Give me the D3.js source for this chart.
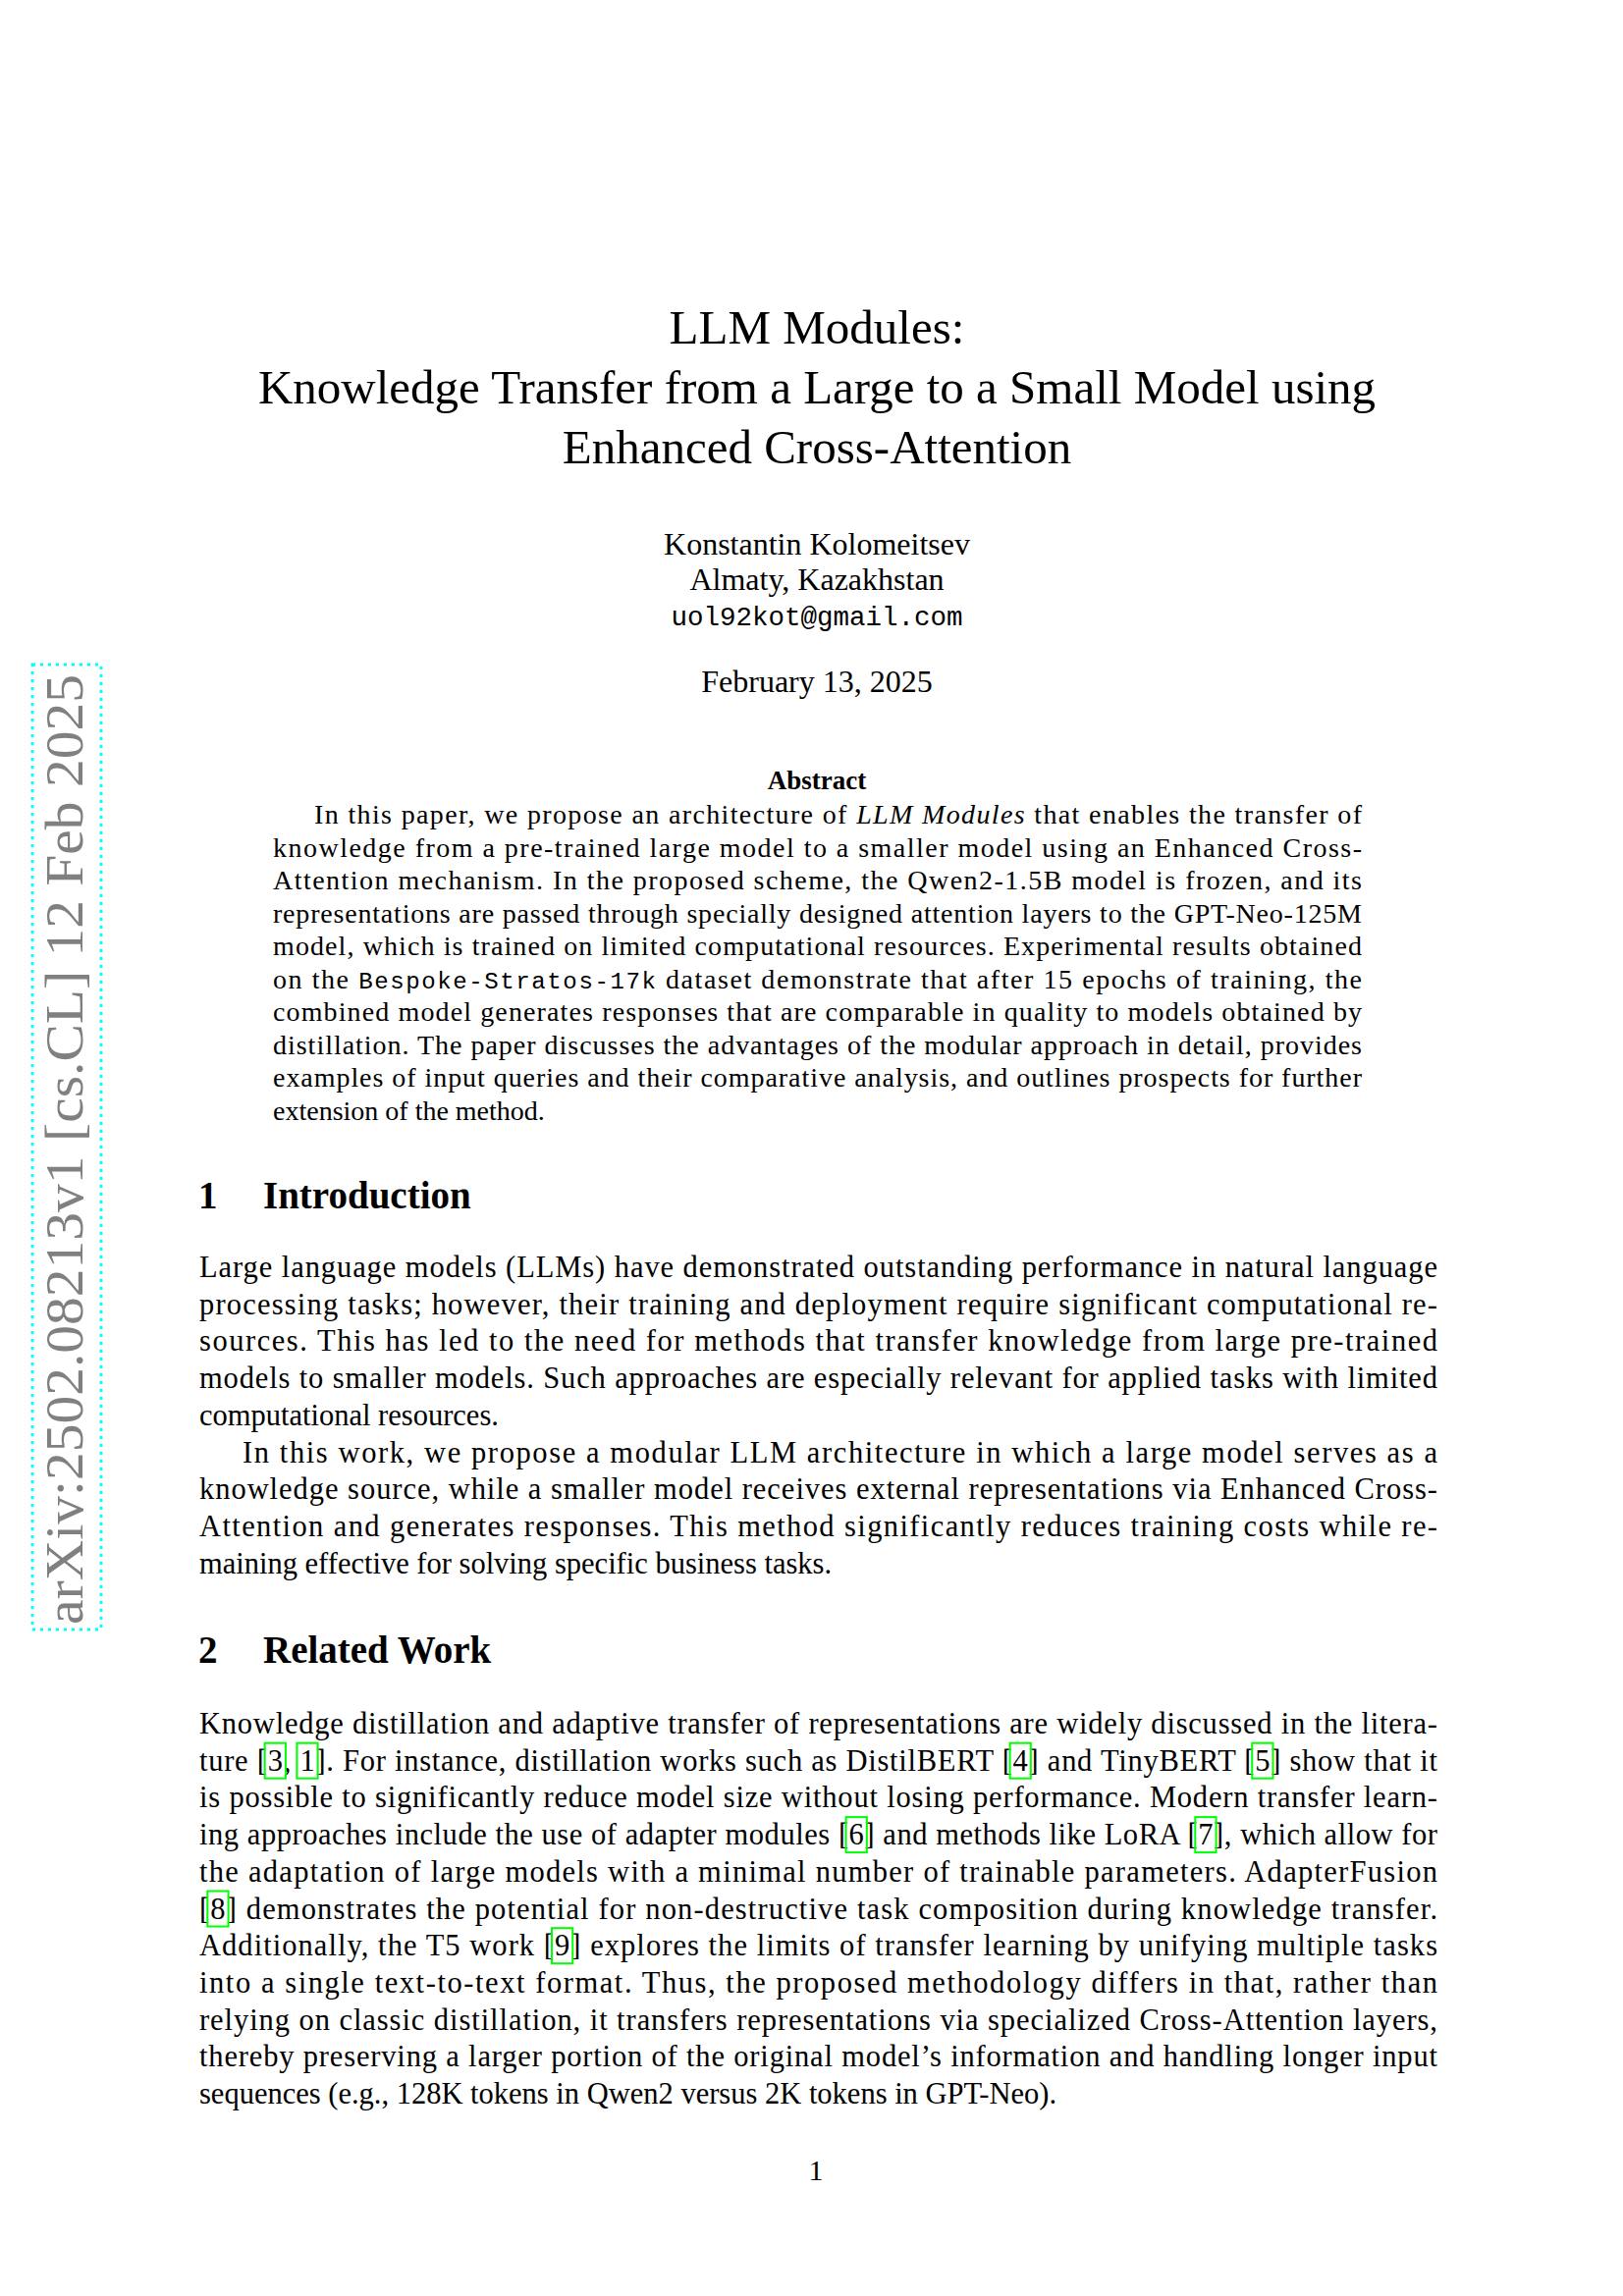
<!DOCTYPE html>
<html>
<head>
<meta charset="utf-8">
<script src="https://cdn.jsdelivr.net/npm/d3@7"></script>
<style>
  body { margin: 0; background: #fff; }
  svg { display: block; }
</style>
</head>
<body>
<svg id="page" width="1653" height="2339"></svg>
<script>
// Page content, line by line as typeset in the reference
var titleLines = ['LLM Modules:', 'Knowledge Transfer from a Large to a Small Model using', 'Enhanced Cross-Attention'];
var authorLines = ['Konstantin Kolomeitsev', 'Almaty, Kazakhstan', '`uol92kot@gmail.com`'];
var dateLine = 'February 13, 2025';
var stampText = 'arXiv:2502.08213v1  [cs.CL]  12 Feb 2025';

var abstractLines = [
  'In this paper, we propose an architecture of *LLM Modules* that enables the transfer of',
  'knowledge from a pre-trained large model to a smaller model using an Enhanced Cross-',
  'Attention mechanism. In the proposed scheme, the Qwen2-1.5B model is frozen, and its',
  'representations are passed through specially designed attention layers to the GPT-Neo-125M',
  'model, which is trained on limited computational resources. Experimental results obtained',
  'on the `Bespoke-Stratos-17k` dataset demonstrate that after 15 epochs of training, the',
  'combined model generates responses that are comparable in quality to models obtained by',
  'distillation. The paper discusses the advantages of the modular approach in detail, provides',
  'examples of input queries and their comparative analysis, and outlines prospects for further',
  'extension of the method.'
];
var introLines = [
  'Large language models (LLMs) have demonstrated outstanding performance in natural language',
  'processing tasks; however, their training and deployment require significant computational re-',
  'sources. This has led to the need for methods that transfer knowledge from large pre-trained',
  'models to smaller models. Such approaches are especially relevant for applied tasks with limited',
  'computational resources.',
  'In this work, we propose a modular LLM architecture in which a large model serves as a',
  'knowledge source, while a smaller model receives external representations via Enhanced Cross-',
  'Attention and generates responses. This method significantly reduces training costs while re-',
  'maining effective for solving specific business tasks.'
];
var introLast = [4, 8];
var introIndent = [5];
var relatedLines = [
  'Knowledge distillation and adaptive transfer of representations are widely discussed in the litera-',
  'ture [3, 1]. For instance, distillation works such as DistilBERT [4] and TinyBERT [5] show that it',
  'is possible to significantly reduce model size without losing performance. Modern transfer learn-',
  'ing approaches include the use of adapter modules [6] and methods like LoRA [7], which allow for',
  'the adaptation of large models with a minimal number of trainable parameters. AdapterFusion',
  '[8] demonstrates the potential for non-destructive task composition during knowledge transfer.',
  'Additionally, the T5 work [9] explores the limits of transfer learning by unifying multiple tasks',
  'into a single text-to-text format. Thus, the proposed methodology differs in that, rather than',
  'relying on classic distillation, it transfers representations via specialized Cross-Attention layers,',
  'thereby preserving a larger portion of the original model\u2019s information and handling longer input',
  'sequences (e.g., 128K tokens in Qwen2 versus 2K tokens in GPT-Neo).'
];
var relatedLast = [10];
var sections = [{ num: '1', title: 'Introduction' }, { num: '2', title: 'Related Work' }];

var SERIF = '"Liberation Serif", serif';
var MONO = '"Liberation Mono", monospace';
var svg = d3.select('#page');

// split a line into plain / *italic* / `mono` pieces
function pieces(str) {
  var out = [], re = /(\*[^*]+\*|`[^`]+`)/g, last = 0, m;
  while ((m = re.exec(str)) !== null) {
    if (m.index > last) out.push({ t: str.slice(last, m.index), k: 'n' });
    out.push({ t: m[0].slice(1, -1), k: m[0][0] === '*' ? 'i' : 'm' });
    last = re.lastIndex;
  }
  if (last < str.length) out.push({ t: str.slice(last), k: 'n' });
  return out;
}

function addText(g, str, x, y, size, opts) {
  opts = opts || {};
  var t = g.append('text')
    .attr('x', x).attr('y', y)
    .attr('font-family', SERIF)
    .attr('font-size', size)
    .attr('font-weight', opts.bold ? 'bold' : null)
    .attr('text-anchor', opts.anchor || 'start')
    .attr('fill', '#000');
  pieces(str).forEach(function(p) {
    t.append('tspan').text(p.t)
      .attr('font-style', p.k === 'i' ? 'italic' : null)
      .attr('font-family', p.k === 'm' ? MONO : null)
      .attr('font-size', p.k === 'm' ? size * 0.86 : null);
  });
  if (opts.width) t.attr('textLength', opts.width).attr('lengthAdjust', 'spacing');
  return t;
}

// green citation boxes around numbers inside [..]
function citeBoxes(g, textNode, plain) {
  var re = /\[([\d, ]+)\]/g, m;
  while ((m = re.exec(plain)) !== null) {
    var start = m.index + 1, inner = m[1], nre = /\d+/g, n;
    while ((n = nre.exec(inner)) !== null) {
      var a = textNode.getExtentOfChar(start + n.index);
      var b = textNode.getExtentOfChar(start + n.index + n[0].length - 1);
      g.append('rect')
        .attr('x', a.x - 3).attr('y', a.y - 1)
        .attr('width', b.x + b.width - a.x + 6).attr('height', a.height + 2)
        .attr('fill', 'none').attr('stroke', '#00ff00').attr('stroke-width', 2);
    }
  }
}

function paragraph(lines, left, right, y0, step, size, lastIdx, indentIdx, indent) {
  var g = svg.append('g');
  var y = d3.scaleLinear().domain([0, 1]).range([y0, y0 + step]);
  lines.forEach(function(line, i) {
    var ind = indentIdx.indexOf(i) >= 0 ? indent : 0;
    var justify = lastIdx.indexOf(i) < 0;
    var t = addText(g, line, left + ind, y(i), size, { width: justify ? right - left - ind : null });
    citeBoxes(g, t.node(), line.replace(/[*`]/g, ''));
  });
}

// title block
var tY = d3.scaleLinear().domain([0, 1]).range([350, 411]);
titleLines.forEach(function(l, i) { addText(svg, l, 832, tY(i), 49, { anchor: 'middle' }); });
var aY = d3.scaleLinear().domain([0, 1]).range([565, 601]);
authorLines.forEach(function(l, i) { addText(svg, l, 832, aY(i), 32, { anchor: 'middle' }); });
addText(svg, dateLine, 832, 705, 32, { anchor: 'middle' });
addText(svg, 'Abstract', 832, 804, 27, { anchor: 'middle', bold: true });

paragraph(abstractLines, 278, 1387, 839, 33.5, 28, [9], [0], 42);

// sections
var secY = [1231, 1694];
sections.forEach(function(s, i) {
  addText(svg, s.num, 202, secY[i], 39, { bold: true });
  addText(svg, s.title, 268, secY[i], 39, { bold: true });
});
paragraph(introLines, 203, 1464, 1301, 37.7, 30.5, introLast, introIndent, 44);
paragraph(relatedLines, 203, 1464, 1766, 37.7, 30.5, relatedLast, [], 0);

addText(svg, '1', 831, 2237 - 16, 30, { anchor: 'middle' });

// arXiv side stamp
var st = svg.append('g').attr('transform', 'translate(84,1655) rotate(-90)');
st.append('text').attr('x', 0).attr('y', 0)
  .attr('font-family', SERIF).attr('font-size', 54).attr('fill', '#808080')
  .attr('textLength', 968).attr('lengthAdjust', 'spacingAndGlyphs')
  .text(stampText);
svg.append('rect').attr('x', 33).attr('y', 677).attr('width', 70).attr('height', 983)
  .attr('fill', 'none').attr('stroke', '#00ffff').attr('stroke-width', 3)
  .attr('stroke-dasharray', '3,5');
</script>
</body>
</html>
